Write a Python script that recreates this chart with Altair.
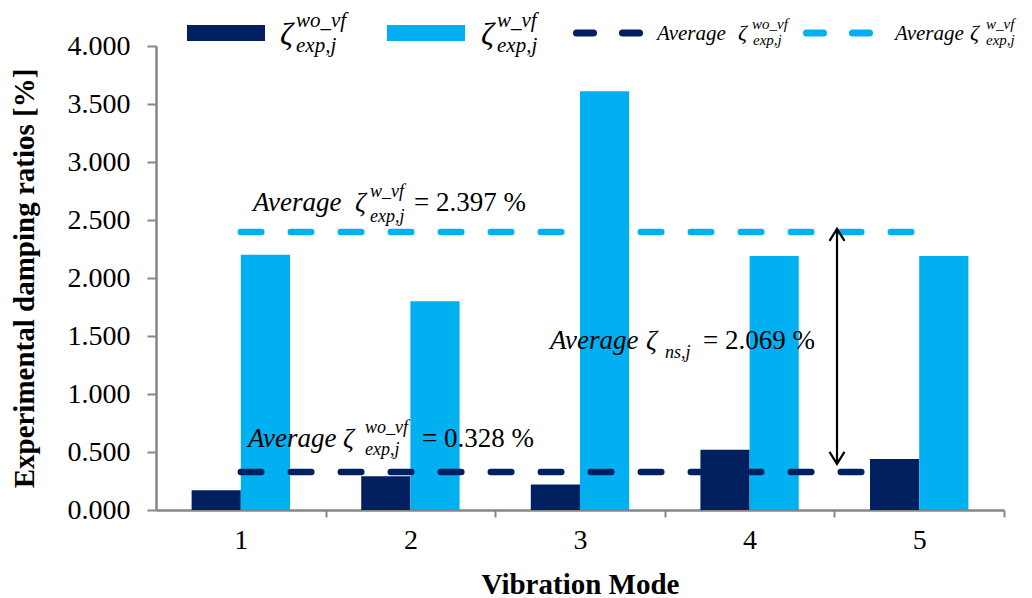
import altair as alt
import pandas as pd

# ---- data ----
modes = ["1", "2", "3", "4", "5"]
zeta_wo_vf = [0.17, 0.29, 0.22, 0.52, 0.44]   # dark bars
zeta_w_vf = [2.20, 1.80, 3.61, 2.19, 2.19]    # light bars
avg_wo_vf = 0.328
avg_w_vf = 2.397
avg_ns = 2.069
y_ticks = [0, 0.5, 1.0, 1.5, 2.0, 2.5, 3.0, 3.5, 4.0]
series_names = ["wo_vf", "w_vf"]

DARK = "#002060"
LIGHT = "#00B0F0"
GREY = "#868686"
SERIF = "Liberation Serif"

# plot origin on the page (for annotation placement)
OX, OY = 156, 46
W, H = 848, 464
STEP = W / len(modes)

bars_df = pd.DataFrame({
    "mode": modes * 2,
    "series": [series_names[0]] * 5 + [series_names[1]] * 5,
    "value": zeta_wo_vf + zeta_w_vf,
})
avg_df = pd.DataFrame({
    "mode": modes,
    "avg_wo": [avg_wo_vf] * 5,
    "avg_w": [avg_w_vf] * 5,
})
one = pd.DataFrame({"k": [0]})

x_enc = alt.X(
    "mode:N",
    sort=modes,
    scale=alt.Scale(paddingInner=0.42, paddingOuter=0.21),
    axis=alt.Axis(
        title="Vibration Mode", labelAngle=0, tickOffset=STEP / 2, labelOffset=-STEP / 2,
        labelPadding=9, titlePadding=16,
    ),
)
y_scale = alt.Scale(domain=[0, 4], nice=False, zero=True)

bars = alt.Chart(bars_df).mark_bar().encode(
    x=x_enc,
    xOffset=alt.XOffset("series:N", sort=series_names, scale=alt.Scale(paddingInner=0, paddingOuter=0)),
    y=alt.Y(
        "value:Q", scale=y_scale,
        axis=alt.Axis(values=y_ticks, format=".3f", title="Experimental damping ratios [%]",
                      labelPadding=17, titlePadding=28),
    ),
    color=alt.Color("series:N", scale=alt.Scale(domain=series_names, range=[DARK, LIGHT]), legend=None),
)

line_w = alt.Chart(avg_df).mark_line(
    color=LIGHT, strokeWidth=6.5, strokeDash=[20.5, 29.5], strokeCap="round"
).encode(x=alt.X("mode:N", sort=modes), y=alt.Y("avg_w:Q", scale=y_scale))

line_wo = alt.Chart(avg_df).mark_line(
    color=DARK, strokeWidth=6.5, strokeDash=[20.5, 29.5], strokeCap="round"
).encode(x=alt.X("mode:N", sort=modes), y=alt.Y("avg_wo:Q", scale=y_scale))

# ---- arrow between the two averages ----
ARROW_X = 837 - OX
arrow = alt.Chart(one).mark_rule(color="black", strokeWidth=2.2, yOffset=-3, y2Offset=-8).encode(
    x=alt.value(ARROW_X), y=alt.datum(avg_w_vf), y2=alt.datum(avg_wo_vf)
)
head_up = alt.Chart(one).mark_point(
    shape="M-1,1.6L0,0L1,1.6", filled=False, color="black", strokeWidth=2.2, size=225, yOffset=-3, opacity=1
).encode(x=alt.value(ARROW_X), y=alt.datum(avg_w_vf))
head_down = alt.Chart(one).mark_point(
    shape="M-1,-1.6L0,0L1,-1.6", filled=False, color="black", strokeWidth=2.2, size=225, yOffset=-8, opacity=1
).encode(x=alt.value(ARROW_X), y=alt.datum(avg_wo_vf))


def txt(s, x, y, size, italic=True, color="black"):
    return alt.Chart(one).mark_text(
        text=s, align="left", baseline="alphabetic", font=SERIF, fontSize=size,
        fontStyle="italic" if italic else "normal", color=color,
    ).encode(x=alt.value(x - OX), y=alt.value(y - OY))


def rect(x1, x2, y1, y2, color):
    return alt.Chart(one).mark_rect(color=color).encode(
        x=alt.value(x1 - OX), x2=alt.value(x2 - OX), y=alt.value(y1 - OY), y2=alt.value(y2 - OY)
    )


def dash(x1, x2, y, color):
    return alt.Chart(one).mark_rule(
        color=color, strokeWidth=7, strokeDash=[17, 29], strokeCap="round"
    ).encode(x=alt.value(x1 - OX), x2=alt.value(x2 - OX), y=alt.value(y - OY))


annotations = [
    # Average zeta w_vf = 2.397 %
    txt("Average", 253, 211, 27), txt("ζ", 355, 211, 27),
    txt("w_vf", 370, 197, 18), txt("exp,j", 370, 222, 18),
    txt("= " + f"{avg_w_vf:.3f}" + " %", 414, 211, 27, italic=False),
    # Average zeta ns = 2.069 %
    txt("Average", 550, 349, 27), txt("ζ", 646, 349, 27),
    txt("ns,j", 665, 358, 18),
    txt("= " + f"{avg_ns:.3f}" + " %", 703, 349, 27, italic=False),
    # Average zeta wo_vf = 0.328 %
    txt("Average", 248, 447, 27), txt("ζ", 343, 447, 27),
    txt("wo_vf", 365, 433, 18), txt("exp,j", 365, 455, 18),
    txt("= " + f"{avg_wo_vf:.3f}" + " %", 422, 447, 27, italic=False),
]

legend = [
    rect(187, 265, 25, 41, DARK),
    txt("ζ", 280, 45, 32), txt("wo_vf", 296, 27, 21), txt("exp,j", 296, 52, 21),
    rect(387, 465, 25, 41, LIGHT),
    txt("ζ", 481, 45, 32), txt("w_vf", 497, 27, 21), txt("exp,j", 497, 52, 21),
    dash(576.5, 639.5, 33, DARK),
    txt("Average", 657, 40, 21), txt("ζ", 738, 40, 22),
    txt("wo_vf", 752, 29, 15), txt("exp,j", 753, 45, 15),
    dash(806.5, 873.5, 33, LIGHT),
    txt("Average", 895, 40, 21), txt("ζ", 970, 40, 22),
    txt("w_vf", 986, 29, 15), txt("exp,j", 986, 45, 15),
]

chart = alt.layer(
    bars, line_w, line_wo, arrow, head_up, head_down, *annotations, *legend
).properties(
    width=W, height=H,
    autosize=alt.AutoSizeParams(type="none"),
    padding={"left": OX - 8, "top": OY - 8, "right": 16, "bottom": 88},
).configure_view(
    stroke="transparent"
).configure_axis(
    domainColor=GREY, domainWidth=2.5, tickColor=GREY, tickWidth=2, grid=False,
    labelFont=SERIF, labelFontSize=28, labelColor="black",
    titleFont=SERIF, titleFontSize=29, titleFontWeight="bold", titleColor="black",
).configure_axisY(
    tickSize=9
).configure_axisX(
    tickSize=7
)

chart.save("out.html", embed_options={"renderer": "svg", "actions": False})
